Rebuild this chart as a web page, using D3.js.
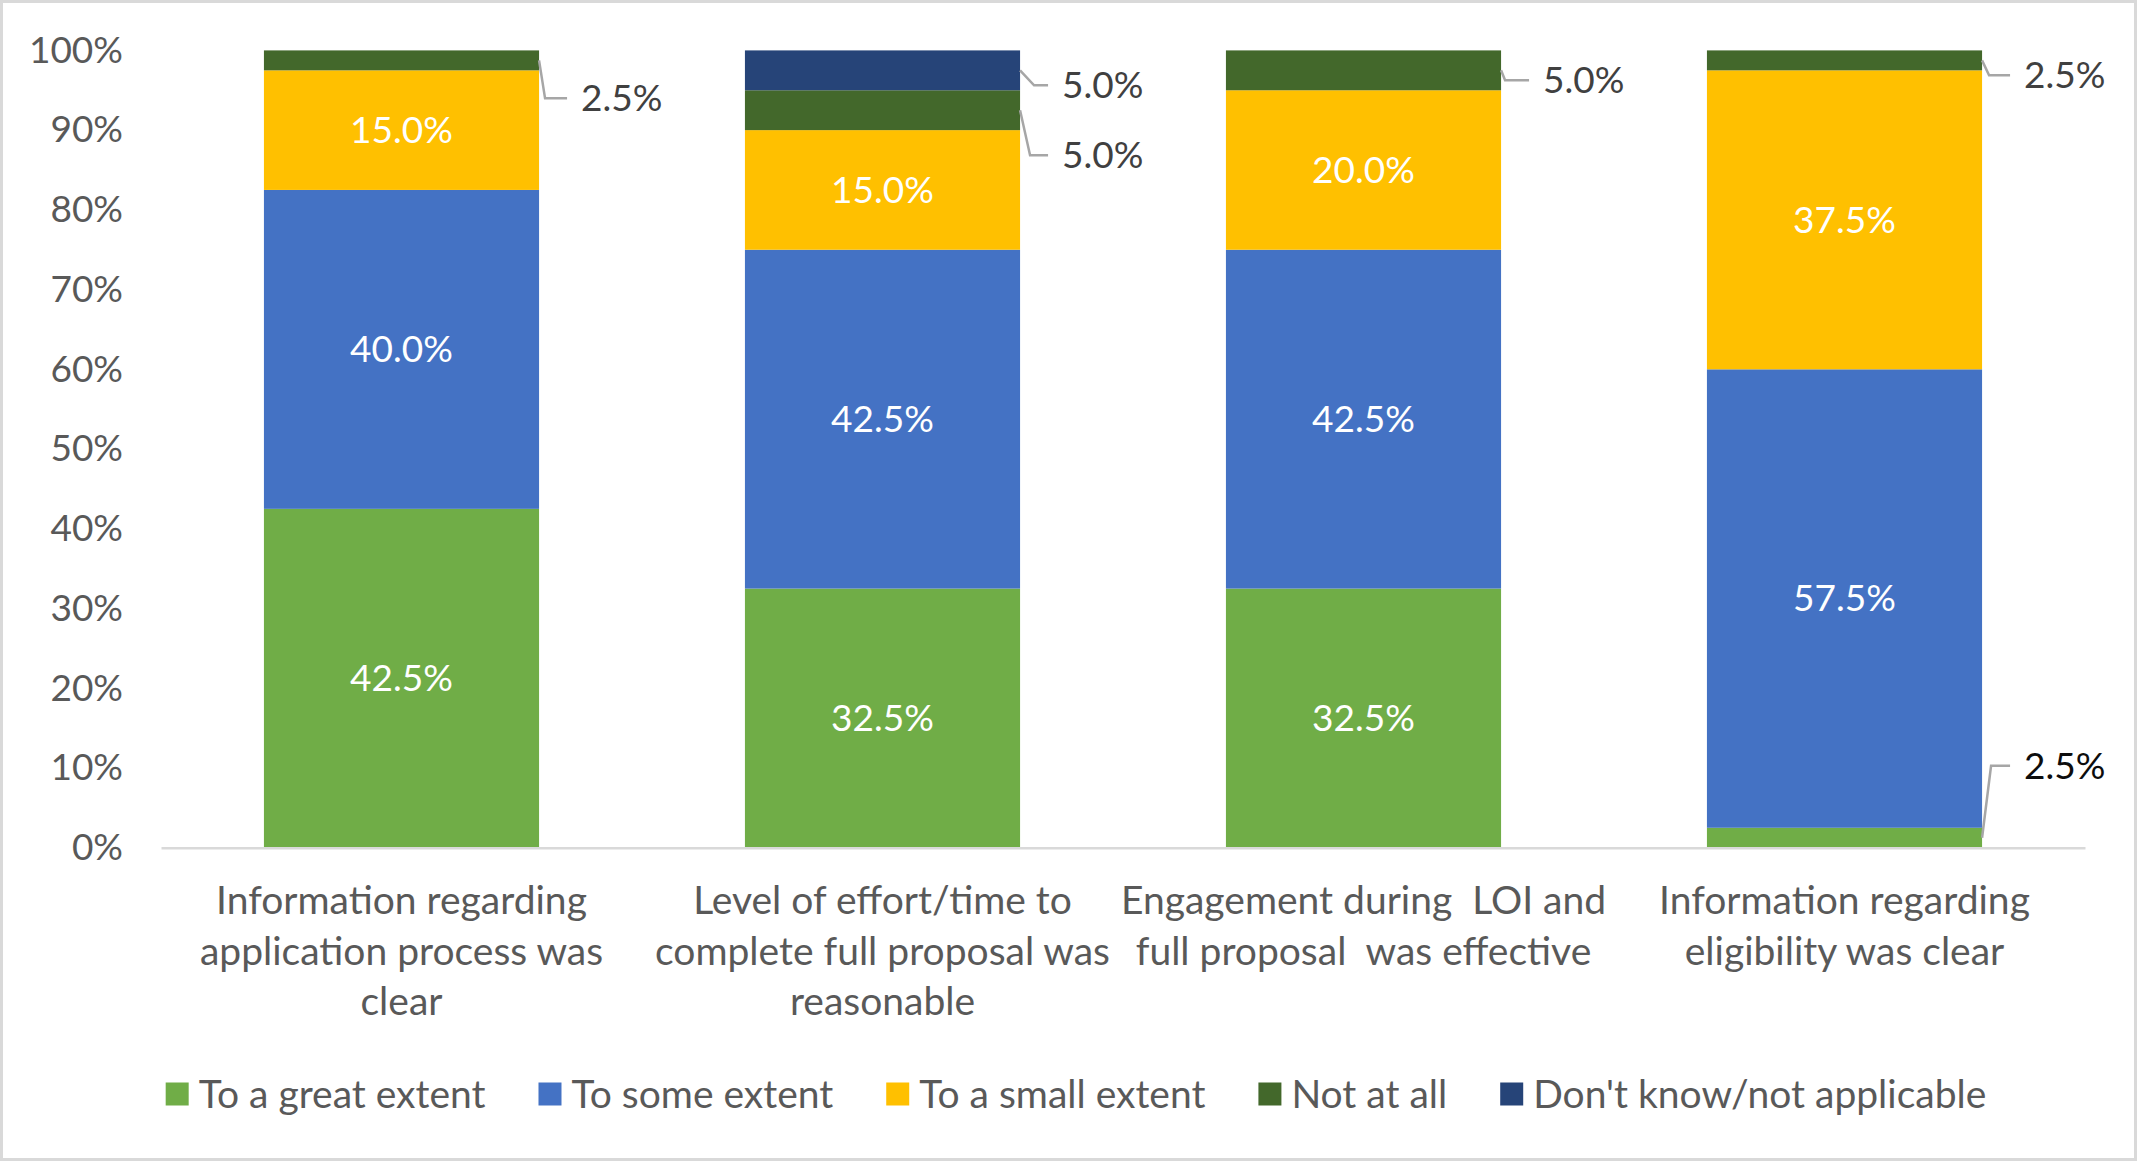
<!DOCTYPE html>
<html>
<head>
<meta charset="utf-8">
<script src="https://cdn.jsdelivr.net/npm/d3@7"></script>
<style>
  body { margin: 0; background: #fff; }
  svg text { font-family: Lato, "Open Sans", sans-serif; }
</style>
</head>
<body>
<svg id="chart" width="2137" height="1161"></svg>
<script>
// categories (already split into the lines used on the axis)
var categories = [
    ["Information regarding", "application process was", "clear"],
    ["Level of effort/time to", "complete full proposal was", "reasonable"],
    ["Engagement during  LOI and", "full proposal  was effective"],
    ["Information regarding", "eligibility was clear"]
];
var seriesNames = ["To a great extent", "To some extent", "To a small extent", "Not at all", "Don't know/not applicable"];
var greatExtent = [42.5, 32.5, 32.5, 2.5];
var someExtent  = [40.0, 42.5, 42.5, 57.5];
var smallExtent = [15.0, 15.0, 20.0, 37.5];
var notAtAll    = [2.5, 5.0, 5.0, 2.5];
var dontKnow    = [0, 5.0, 0, 0];
var yTicks = [0, 10, 20, 30, 40, 50, 60, 70, 80, 90, 100];

const seriesColors = ["#70AD47", "#4472C4", "#FFC000", "#43682B", "#264478"];
const textGray = "#595959",
    leaderGray = "#a6a6a6";

// where excel put the callout labels (offsets from the segment's right edge)
const callouts = {
    "3|0": {dy: 38, elbow: 6},
    "4|1": {dy: 15, elbow: 14},
    "3|1": {dy: 45, elbow: 10},
    "3|2": {dy: 10, elbow: 4},
    "3|3": {dy: 15, elbow: 7},
    "0|3": {dy: -72, elbow: 9}
};

function drawChart() {
    var svg = d3.select("#chart");
    svg.selectAll("*").remove();

    var W = 2137, H = 1161,
        margin = {top: 50.4, left: 161, right: 52, bottom: 313.3};

    svg.append("rect")
        .attr("x", 1.5).attr("y", 1.5)
        .attr("width", W - 3).attr("height", H - 3)
        .attr("fill", "#fff")
        .attr("stroke", "#d9d9d9")
        .attr("stroke-width", 3);

    var xScale = d3.scaleBand()
            .domain(d3.range(categories.length))
            .range([margin.left, W - margin.right])
            .paddingInner(0.428)
            .paddingOuter(0.214),
        yScale = d3.scaleLinear()
            .domain([0, 100])
            .range([H - margin.bottom, margin.top]);

    var allSeries = [greatExtent, someExtent, smallExtent, notAtAll, dontKnow];
    var rows = categories.map(function(c, i) {
        var row = {idx: i};
        allSeries.forEach(function(s, k) { row["s" + k] = s[i]; });
        return row;
    });
    var stacked = d3.stack().keys(allSeries.map(function(s, k) { return "s" + k; }))(rows);

    // y axis
    var yAxis = svg.append("g")
        .attr("transform", "translate(" + margin.left + ",0)")
        .call(d3.axisLeft(yScale).tickValues(yTicks).tickSize(0).tickPadding(38)
            .tickFormat(function(d) { return d + "%"; }));
    yAxis.select(".domain").remove();
    yAxis.selectAll("text")
        .attr("fill", textGray)
        .style("font-size", "37px");

    // bars
    var layers = svg.append("g").selectAll("g")
        .data(stacked)
        .enter().append("g")
        .attr("fill", function(d, k) { return seriesColors[k]; });

    layers.selectAll("rect")
        .data(function(d) { return d; })
        .enter().append("rect")
        .attr("x", function(d) { return xScale(d.data.idx); })
        .attr("y", function(d) { return yScale(d[1]); })
        .attr("width", xScale.bandwidth())
        .attr("height", function(d) { return yScale(d[0]) - yScale(d[1]); });

    // x axis
    var xAxis = svg.append("g")
        .attr("transform", "translate(0," + yScale(0) + ")")
        .call(d3.axisBottom(xScale).tickSize(0).tickFormat(""));
    xAxis.select(".domain")
        .attr("stroke", "#d9d9d9")
        .attr("stroke-width", 2.5);
    xAxis.selectAll(".tick text").remove();
    xAxis.selectAll(".tick").each(function(d) {
        var t = d3.select(this).append("text")
            .attr("text-anchor", "middle")
            .attr("fill", textGray)
            .style("font-size", "39px")
            .style("white-space", "pre");
        categories[d].forEach(function(line, j) {
            t.append("tspan")
                .attr("x", 0)
                .attr("y", 53 + j * 50.4)
                .attr("dy", "0.35em")
                .text(line);
        });
    });

    // data labels
    var labelG = svg.append("g");
    stacked.forEach(function(layer, k) {
        layer.forEach(function(d) {
            var v = d[1] - d[0];
            if (v <= 0) return;
            var i = d.data.idx,
                label = v.toFixed(1) + "%";
            if (v >= 10) {
                labelG.append("text")
                    .attr("x", xScale(i) + xScale.bandwidth() / 2)
                    .attr("y", yScale((d[0] + d[1]) / 2))
                    .attr("dy", "0.35em")
                    .attr("text-anchor", "middle")
                    .attr("fill", "#fff")
                    .style("font-size", "37px")
                    .text(label);
            } else {
                var c = callouts[k + "|" + i];
                var x0 = xScale(i) + xScale.bandwidth(),
                    y0 = yScale((d[0] + d[1]) / 2),
                    y1 = y0 + c.dy;
                labelG.append("polyline")
                    .attr("points", [[x0, y0], [x0 + c.elbow, y1], [x0 + 28, y1]].join(" "))
                    .attr("fill", "none")
                    .attr("stroke", leaderGray)
                    .attr("stroke-width", 2.5);
                labelG.append("text")
                    .attr("x", x0 + 42)
                    .attr("y", y1)
                    .attr("dy", "0.35em")
                    .attr("fill", c.dy < 0 ? "#0d0d0d" : "#404040")
                    .style("font-size", "37px")
                    .text(label);
            }
        });
    });

    // legend
    var legend = svg.append("g");
    var items = legend.selectAll("g")
        .data(seriesNames)
        .enter().append("g");
    items.append("rect")
        .attr("width", 23).attr("height", 23)
        .attr("y", -11.5)
        .attr("fill", function(d, k) { return seriesColors[k]; });
    items.append("text")
        .attr("x", 33)
        .attr("dy", "0.35em")
        .attr("fill", textGray)
        .style("font-size", "39px")
        .text(function(d) { return d; });

    var widths = [];
    items.each(function() { widths.push(33 + d3.select(this).select("text").node().getComputedTextLength()); });
    var gap = 53,
        total = d3.sum(widths) + gap * (widths.length - 1),
        cx = 166 + (1986 - 166) / 2,
        xPos = cx - total / 2;
    items.attr("transform", function(d, k) {
        var t = "translate(" + xPos + ",1094)";
        xPos += widths[k] + gap;
        return t;
    });
}

drawChart();
</script>
</body>
</html>
